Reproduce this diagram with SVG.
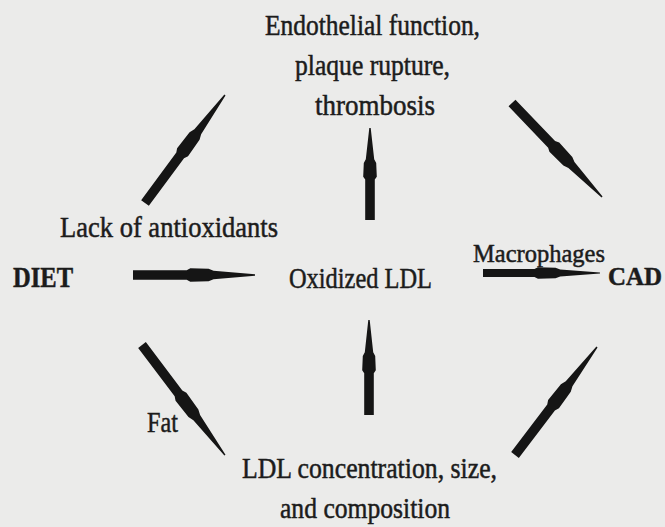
<svg xmlns="http://www.w3.org/2000/svg" xmlns:xlink="http://www.w3.org/1999/xlink" width="665" height="527" viewBox="0 0 665 527">
  <style>
    .t { font-family: "Liberation Serif", "Times New Roman", serif; font-size: 29px; fill: #1c1c1c; stroke: #1c1c1c; stroke-width: 0.5px; }
    .b { font-weight: 700; }
    .s { font-size: 26px; }
    .arr { fill: #151515; }
  </style>
  <defs>
    <path id="arrow" d="M0,-4.8 L44,-4.8 L47,-6.8 L62,-6.2 L66,-4.2 L100,-0.7 L100,0.7 L66,4.2 L62,6.2 L47,6.8 L44,4.8 L0,4.8 Z"/>
  </defs>
  <rect width="665" height="527" fill="#ebebea"/>

  <g id="connectors" class="arr">
    <use xlink:href="#arrow" href="#arrow" transform="translate(145,203) rotate(-53.5) scale(1.344,1)"/>
    <use xlink:href="#arrow" href="#arrow" transform="translate(512,103) rotate(46.2) scale(1.301,1)"/>
    <use xlink:href="#arrow" href="#arrow" transform="translate(133,275) scale(1.22,1)"/>
    <use xlink:href="#arrow" href="#arrow" transform="translate(483,273) scale(1.17,0.85)"/>
    <use xlink:href="#arrow" href="#arrow" transform="translate(142,345) rotate(53) scale(1.378,1)"/>
    <use xlink:href="#arrow" href="#arrow" transform="translate(515,455) rotate(-52.8) scale(1.356,1)"/>
    <use xlink:href="#arrow" href="#arrow" transform="translate(370,220) rotate(-90) scale(0.92,1)"/>
    <use xlink:href="#arrow" href="#arrow" transform="translate(369,415) rotate(-90) scale(0.95,1)"/>
  </g>

  <g id="endothelial">
    <text class="t" x="265" y="35" textLength="215" lengthAdjust="spacingAndGlyphs">Endothelial function,</text>
    <text class="t" x="295" y="75" textLength="155" lengthAdjust="spacingAndGlyphs">plaque rupture,</text>
    <text class="t" x="315" y="115" textLength="120" lengthAdjust="spacingAndGlyphs">thrombosis</text>
  </g>
  <g id="lack-antioxidants">
    <text class="t" x="60" y="237" textLength="218" lengthAdjust="spacingAndGlyphs">Lack of antioxidants</text>
  </g>
  <g id="diet">
    <text class="t b" x="13" y="287" textLength="60" lengthAdjust="spacingAndGlyphs">DIET</text>
  </g>
  <g id="oxidized-ldl">
    <text class="t" x="289" y="288" textLength="143" lengthAdjust="spacingAndGlyphs">Oxidized LDL</text>
  </g>
  <g id="macrophages">
    <text class="t s" x="473" y="262" textLength="132" lengthAdjust="spacingAndGlyphs">Macrophages</text>
  </g>
  <g id="cad">
    <text class="t b s" x="608" y="285" textLength="54" lengthAdjust="spacingAndGlyphs">CAD</text>
  </g>
  <g id="fat">
    <text class="t" x="147" y="432" textLength="31" lengthAdjust="spacingAndGlyphs">Fat</text>
  </g>
  <g id="ldl-concentration">
    <text class="t" x="242" y="478" textLength="255" lengthAdjust="spacingAndGlyphs">LDL concentration, size,</text>
    <text class="t" x="280" y="518" textLength="170" lengthAdjust="spacingAndGlyphs">and composition</text>
  </g>
</svg>
